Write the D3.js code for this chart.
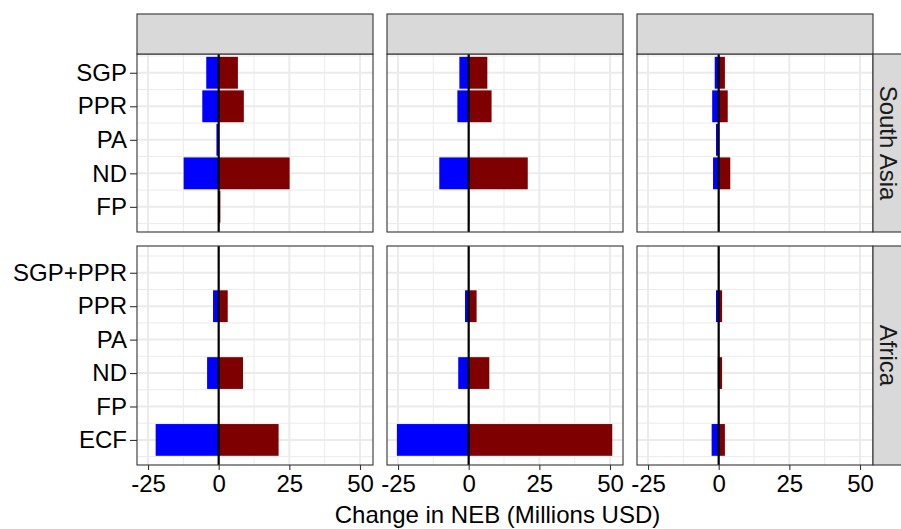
<!DOCTYPE html>
<html>
<head>
<meta charset="utf-8">
<script src="https://cdn.jsdelivr.net/npm/d3@7"></script>
<style>
  html, body { margin: 0; padding: 0; background: #fff; }
  svg { display: block; font-family: "Liberation Sans", Arial, Helvetica, sans-serif; }
</style>
</head>
<body>
<svg id="chart" width="901" height="529"></svg>
<script>
// ---------------- data ----------------
const regions = ["South Asia", "Africa"];
// categories bottom -> top
const catsSouthAsia = ["FP", "ND", "PA", "PPR", "SGP"];
const catsAfrica = ["ECF", "FP", "ND", "PA", "PPR", "SGP+PPR"];

// South Asia, per column (negative = blue, positive = dark red)
const saNeg1 = [0, -12.4, -0.8, -5.8, -4.4];
const saPos1 = [0.6, 25.1, 0, 8.9, 6.8];
const saNeg2 = [0, -10.4, -0.2, -4.0, -3.3];
const saPos2 = [0.2, 20.9, 0.1, 8.1, 6.6];
const saNeg3 = [0, -2.0, -0.95, -2.3, -1.4];
const saPos3 = [0.1, 4.1, 0, 3.2, 2.2];

// Africa, per column
const afNeg1 = [-22.3, 0, -4.1, 0, -2.0, 0];
const afPos1 = [21.2, 0, 8.6, 0, 3.2, 0];
const afNeg2 = [-25.4, 0, -3.7, 0, -1.3, 0];
const afPos2 = [50.8, 0, 7.3, 0, 2.8, 0];
const afNeg3 = [-2.5, 0, -0.3, 0, -0.95, 0];
const afPos3 = [2.2, 0, 1.2, 0, 1.2, 0];

const xTicks = [-25, 0, 25, 50];
const xTickLabels = ["-25", "0", "25", "50"];
const xMinor = [-12.5, 12.5, 37.5];
const xTitle = "Change in NEB (Millions USD)";

// ---------------- layout ----------------
const svg = d3.select("#chart");
const colLeft = [137, 387, 637];
const panelW = 236;
const rowBox = [[54, 232], [246, 465]];
const stripTop = 14;
const rightStripX = 873, rightStripW = 40;
const blue = "#0000FF", red = "#7F0000";
const grid = "#EBEBEB", border = "#333333";
const font = 24;

const rowsData = [
  { cats: catsSouthAsia, neg: [saNeg1, saNeg2, saNeg3], pos: [saPos1, saPos2, saPos3], dom: [0.25, 5.56] },
  { cats: catsAfrica, neg: [afNeg1, afNeg2, afNeg3], pos: [afPos1, afPos2, afPos3], dom: [0.25, 6.8] }
];

const x = d3.scaleLinear().domain([-28.9, 54.6]).range([0, panelW]);
const barW = 0.95;

rowsData.forEach((row, ri) => {
  const [top, bot] = rowBox[ri];
  const y = d3.scaleLinear().domain(row.dom).range([bot, top]);
  const majorY = row.cats.map((c, i) => i + 1);
  const minorY = d3.range(0.5, row.dom[1], 1);

  colLeft.forEach((cx, ci) => {
    const g = svg.append("g").attr("transform", `translate(${cx},0)`);
    g.append("rect").attr("x", 0).attr("y", top).attr("width", panelW).attr("height", bot - top).attr("fill", "#fff");
    // minor grid
    g.selectAll(".mvx").data(xMinor).enter().append("line")
      .attr("x1", d => x(d)).attr("x2", d => x(d)).attr("y1", top).attr("y2", bot)
      .attr("stroke", grid).attr("stroke-width", 1);
    g.selectAll(".mhy").data(minorY).enter().append("line")
      .attr("x1", 0).attr("x2", panelW).attr("y1", d => y(d)).attr("y2", d => y(d))
      .attr("stroke", grid).attr("stroke-width", 1);
    // major grid
    g.selectAll(".Mvx").data(xTicks).enter().append("line")
      .attr("x1", d => x(d)).attr("x2", d => x(d)).attr("y1", top).attr("y2", bot)
      .attr("stroke", grid).attr("stroke-width", 2);
    g.selectAll(".Mhy").data(majorY).enter().append("line")
      .attr("x1", 0).attr("x2", panelW).attr("y1", d => y(d)).attr("y2", d => y(d))
      .attr("stroke", grid).attr("stroke-width", 2);

    // bars
    const negVals = row.neg[ci], posVals = row.pos[ci];
    const bh = y(0) - y(barW);
    g.selectAll(".neg").data(negVals).enter().append("rect")
      .attr("x", d => x(Math.min(0, d)))
      .attr("width", d => Math.abs(x(d) - x(0)))
      .attr("y", (d, i) => y(i + 1 + barW / 2))
      .attr("height", bh)
      .attr("fill", blue);
    g.selectAll(".pos").data(posVals).enter().append("rect")
      .attr("x", d => x(Math.min(0, d)))
      .attr("width", d => Math.abs(x(d) - x(0)))
      .attr("y", (d, i) => y(i + 1 + barW / 2))
      .attr("height", bh)
      .attr("fill", red);

    // zero line
    g.append("line").attr("x1", x(0)).attr("x2", x(0)).attr("y1", top).attr("y2", bot)
      .attr("stroke", "#000").attr("stroke-width", 2.2);

    // border
    g.append("rect").attr("x", 0).attr("y", top).attr("width", panelW).attr("height", bot - top)
      .attr("fill", "none").attr("stroke", border).attr("stroke-width", 1.1);

    // top strip
    if (ri === 0) {
      g.append("rect").attr("x", 0).attr("y", stripTop).attr("width", panelW).attr("height", top - stripTop)
        .attr("fill", "#D9D9D9").attr("stroke", border).attr("stroke-width", 1.1);
    }

    // x axis on bottom row
    if (ri === rowsData.length - 1) {
      const ax = g.append("g").attr("transform", `translate(0,${bot})`)
        .call(d3.axisBottom(x).tickValues(xTicks).tickSize(5).tickPadding(5)
          .tickFormat((d, i) => xTickLabels[i]));
      ax.select(".domain").remove();
      ax.selectAll(".tick line").attr("stroke", border).attr("stroke-width", 1.1);
      ax.selectAll(".tick text").attr("fill", "#000").attr("font-size", font)
        .attr("font-family", "'Liberation Sans', Arial, sans-serif").attr("dy", "0.71em");
    }
  });

  // y axis on first column
  const yAx = svg.append("g").attr("transform", `translate(${colLeft[0]},0)`)
    .call(d3.axisLeft(y).tickValues(majorY).tickSize(7).tickPadding(3).tickFormat((d) => row.cats[d - 1]));
  yAx.select(".domain").remove();
  yAx.selectAll(".tick line").attr("stroke", border).attr("stroke-width", 1.1);
  yAx.selectAll(".tick text").attr("fill", "#000").attr("font-size", font)
    .attr("font-family", "'Liberation Sans', Arial, sans-serif");

  // right strip
  svg.append("rect").attr("x", rightStripX).attr("y", top).attr("width", rightStripW).attr("height", bot - top)
    .attr("fill", "#D9D9D9").attr("stroke", border).attr("stroke-width", 1.1);
  svg.append("text")
    .attr("transform", `translate(${rightStripX + 15},${(top + bot) / 2}) rotate(90)`)
    .attr("text-anchor", "middle").attr("dominant-baseline", "central")
    .attr("font-size", 24).attr("fill", "#1A1A1A")
    .text(regions[ri]);
});

// x axis title
svg.append("text").attr("x", 497.5).attr("y", 523).attr("text-anchor", "middle")
  .attr("font-size", font).attr("fill", "#000").text(xTitle);
</script>
</body>
</html>
